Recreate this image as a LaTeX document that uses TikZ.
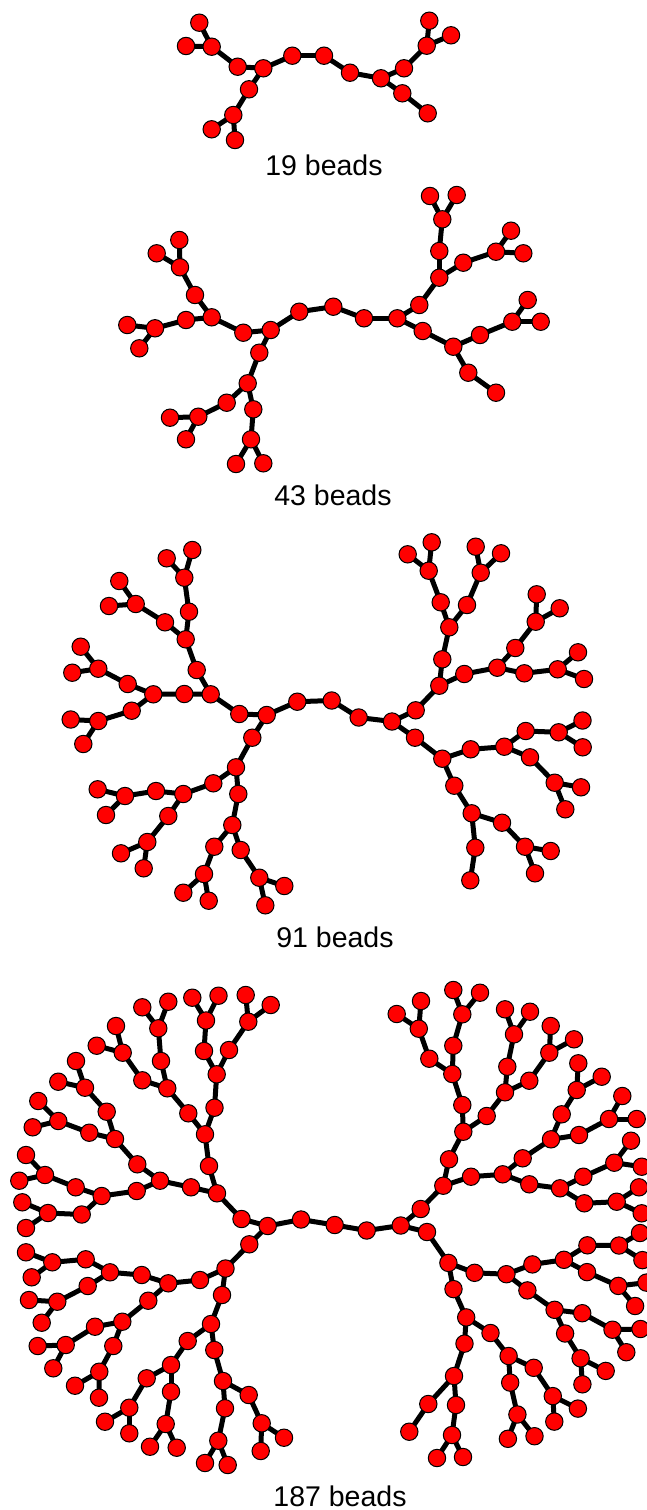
\documentclass[tikz,border=0pt]{standalone}
\usepackage{fontspec}
\setmainfont{Liberation Sans}
\usetikzlibrary{backgrounds}
\begin{document}
\begin{tikzpicture}[x=1pt,y=-1pt,
  bead/.style={circle,fill=red,draw=black,line width=1pt,minimum size=17.4pt,inner sep=0pt},
  bond/.style={line width=5pt,black},
  caption/.style={font=\fontsize{28.5}{32}\selectfont,anchor=base}]
\useasboundingbox (0,0) rectangle (646,1510);

% ---------------- 19 beads ----------------
\foreach \n/\x/\y in {p1/199.3/22.7, p2/186/46, p3/211.7/46.7, p4/237.7/66.7, p5/263.3/68.3,
  p6/292.3/55.7, p7/324/55.7, p8/350/72.7, p9/381/78.3, p10/404/68.3, p11/426.7/45.7,
  p12/429.3/20.7, p13/451/35.3, p14/402.3/93.3, p15/427.7/113.3, p16/249/89.3,
  p17/233.3/115, p18/211.7/129.3, p19/235/140}
  \node[bead] (\n) at (\x,\y) {};
\node[caption] (cap1) at (324,175) {19 beads};

% ---------------- 43 beads ----------------
\foreach \n/\x/\y in {q1/270.7/330, q2/299.3/311.7, q3/333.3/306.7, q4/364/318.3, q5/397.3/318.3,
  q6/243.3/332.7, q7/211.7/317.3, q8/195/295, q9/180/267.3, q10/179.3/240, q11/156.7/253.3,
  q12/186/320, q13/155/328.3, q14/127.3/325, q15/139.3/348.3, q16/259.3/352.7, q17/247.7/383.3,
  q18/226.7/402.7, q19/198.3/416.7, q20/170/417.7, q21/186/439.3, q22/253.3/409.3, q23/251/439.3,
  q24/236/464, q25/263.3/463.3, q26/419.3/305, q27/439.3/277.7, q28/439.3/251, q29/442.3/219.3,
  q30/430/196, q31/456.7/195, q32/463.3/262.7, q33/496/251.7, q34/511/230.7, q35/523.3/253.3,
  q36/422.7/331, q37/453.3/346.7, q38/480/335, q39/512.3/321.7, q40/527.7/300, q41/540.7/321.7,
  q42/468.3/372.7, q43/496/392.7}
  \node[bead] (\n) at (\x,\y) {};
\node[caption] (cap2) at (333,505) {43 beads};

% ---------------- 91 beads ----------------
\foreach \n/\x/\y in {a1/192.3/550, a2/166.7/558.3, a3/184.3/577.7, a4/119.3/581, a5/109/606,
  a6/135.7/604, a7/189/611.7, a8/165/622.3, a9/185.7/639.3, a10/80.7/646.7, a11/72.3/672.7,
  a12/98.3/668.7, a13/196.7/670, a14/127.7/684, a15/153.3/694.3, a16/184.3/694, a17/210.7/694.3,
  a18/239.3/714, a19/266.7/715, a20/297.3/701.7, a21/331.7/700.5, a22/131.7/710.7, a23/70.7/719.5,
  a24/98.3/721,
  b1/431.7/542.3, b2/407.7/554.3, b3/428.7/570.7, b4/475.7/546.7, b5/501/553.3, b6/480.7/572.7,
  b7/440.7/602.3, b8/467/605, b9/449.3/627.3, b10/536.7/594.3, b11/559.7/608.3, b12/535.7/621.7,
  b13/515.3/648, b14/442.3/659.3, b15/578/652.3, b16/497.3/667.7, b17/464.3/674, b18/524.3/673.3,
  b19/557.7/669.3, b20/584/679, b21/439.3/685.7, b23/358.7/717.5, b24/392/721.5, b25/415.7/710.3,
  b26/582.5/720.5,
  c1/83.3/744, c2/252.3/737.7, c3/236/767.3, c4/97.7/789.3, c5/125/796, c6/156/791, c7/183.3/794,
  c8/213.3/783.3, c9/238.3/794, c10/106/815, c11/168.3/816, c12/232.3/825, c13/147.3/842,
  c14/214.3/846.7, c15/240.7/850, c16/121/853.3, c17/143.7/868.3, c18/204/874, c19/259.3/877.7,
  c20/284.3/886, c21/183.3/892.7, c22/208.7/900.7, c23/265.3/905.3,
  d3/525.7/731, d4/558.7/732.3, d5/415/737.7, d6/582.7/747.3, d7/470.7/749.3, d8/504.3/746.7,
  d9/442.3/758.7, d10/530/757.3, d11/554.7/782.7, d12/581/787.3, d13/454.3/785.7, d14/565.3/809.3,
  d15/471.7/813.3, d16/502/822.7, d17/475.3/847.7, d18/525/846.7, d19/550.7/851, d20/535/873.3,
  d21/470.3/880.3}
  \node[bead] (\n) at (\x,\y) {};
\node[caption] (cap3) at (335,947) {91 beads};

% ---------------- 187 beads ----------------
% core and upper left
\foreach \n/\x/\y in {f14/267.7/1226, f15/301/1219.5, f16/334.7/1225, f17/366.7/1230.5, f18/400.7/1225.5,
  f20/427/1232, g8/249.3/1244.3, g18/284/1437.7, g19/260.7/1451,
  f13/241.5/1219, e37/217/1193.3, e35/191/1187.3, e30/209/1166, e27/205/1134.3, e21/214.5/1107.7,
  e22/188.3/1113.3, e14/216.7/1074.3, e10/204/1051, f7/229/1050, e5/206/1020.5, e2/192.3/997.7,
  e3/218.5/995.7, f5/248.3/1021.7, f2/245.7/995, f3/270.7/1005, e18/167.3/1088.3, e12/161/1061,
  e15/142.3/1080.3, e6/158.3/1028.3, e4/142.3/1007.3, e1/168.3/1001.7, e9/122.7/1052.7, e7/116/1026,
  e8/96.7/1045.7, e33/160/1180.7, e29/137.3/1164.3, e36/136.7/1191, e26/115/1139, e20/106.7/1111.7,
  e25/89.3/1132.7, e17/85/1087.7, e13/76/1061, e16/58.3/1081.7, e23/58.3/1121, e19/38.3/1101,
  e24/32.7/1127.3, e38/101.7/1196, e34/75.7/1187.3, e41/81.7/1214.5, e32/45/1175, e28/26/1155,
  e31/19.3/1180.7, e40/48/1213, e39/22.3/1202.3, e42/26/1228}
  \node[bead] (\n) at (\x,\y) {};
% upper right
\foreach \n/\x/\y in {f19/420.7/1209, i38/443.3/1185.7, i32/449/1159.3, i36/471/1176.7,
  i27/463.3/1131.7, i22/462.3/1105, i26/486.7/1116, i17/452.3/1074, i11/453.3/1045.7,
  i12/429.3/1058.7, i4/462.3/1014.3, i1/453.3/990, i2/480/992.7, i7/418.8/1028.7, i3/421/1001,
  f22/396.7/1014, i20/505/1092.3, i15/507.3/1066.7, i18/529.3/1080.7, i9/514/1034.3, i5/505/1009.3,
  i6/530/1011.7, i13/549.3/1052.7, i8/550.7/1026, i10/574/1039.3, i37/502.7/1174.3, i31/522.7/1158.3,
  i39/529.3/1184.3, i29/551/1139.3, i23/561.7/1114.3, i28/579/1135, i19/576.7/1090, i14/578.3/1063.3,
  i16/601.7/1076.7, i24/609/1119, i21/622.3/1096, i25/636.7/1119, i40/560/1188.3, i35/583.3/1176.7,
  i43/584.3/1203.3, i33/614.3/1162.7, i30/631/1140.7, i34/641.7/1166.7, i44/616.7/1201.7,
  i41/639/1187.3, i45/641.7/1213.3}
  \node[bead] (\n) at (\x,\y) {};
% lower left
\foreach \n/\x/\y in {g9/225.5/1268.5, h11/200/1280, h10/168.3/1283.3, h9/141.7/1275, h8/110/1272.3,
  h6/85.7/1259.3, h5/52.3/1262.3, h4/26/1252.3, h7/31.7/1277.3, h13/87.7/1286, h16/57.3/1301.7,
  h15/29/1300, h21/41.7/1322.7, h17/148.3/1300.7, h18/122.3/1321.7, h20/95/1326.7, h24/65.7/1345,
  h23/37.7/1346, h28/53.3/1368.3, h25/113.3/1346, h29/99.3/1371.7, h33/75/1385.7, h34/99/1397.7,
  g10/222/1295, g11/211/1324, h22/187.7/1341, h27/171/1365, h30/146.7/1378.3, h35/129.3/1407.7,
  h38/105/1421.7, h39/129.3/1433.3, h32/171/1391.7, h37/165.7/1424, h41/150/1446.7, h42/176.7/1447.7,
  g12/214.3/1350, g13/223/1381, g15/225/1408.3, g17/218.3/1440.7, g21/205/1463, g20/227.7/1465,
  g14/248.7/1395, g16/261.7/1423.3}
  \node[bead] (\n) at (\x,\y) {};
% lower right (its innermost arm ends in a single bead)
\foreach \n/\x/\y in {Rg9/448.4/1262.9, Rh11/474.6/1272.8, Rh10/506.4/1274.2, Rh9/532.4/1264.4,
  Rh8/563.9/1259.8, Rh6/587.4/1245.3, Rh5/619/1245.5, Rh4/640/1233, Rh7/642.4/1260.1,
  Rh13/587/1272.1, Rh16/618.3/1285.9, Rh15/646.4/1282.6, Rh21/635.1/1306, Rh17/527.4/1290.4,
  Rh18/554.6/1309.8, Rh20/582.2/1313.2, Rh24/612.5/1329.7, Rh23/640.5/1329, Rh28/626.3/1352.2,
  Rh25/565.1/1333.5, Rh29/580.6/1358.3, Rh33/605.7/1370.9, Rh34/582.4/1384.3, Rg10/453.5/1289.1,
  Rg11/466.2/1317.4, Rh22/490.5/1333, Rh27/508.6/1356, Rh30/533.7/1367.8, Rh35/552.8/1396.1,
  Rh38/577.9/1408.6, Rh39/554.3/1421.6, Rh32/510.2/1382.6, Rh37/517.4/1414.5, Rh41/534.5/1436.2,
  Rh42/507.9/1438.8, Rg12/464.5/1343.6, Rg13/454/1376, Rg15/456/1405, Rg17/452/1435,
  Rg21/463/1457, Rg20/437/1458, Rg14/428.3/1404, Rg16/409.3/1431.7}
  \node[bead] (\n) at (\x,\y) {};
\node[caption] (cap4) at (340,1506) {187 beads};

% bonds shared by both lower quadrants
\def\lowbonds{g9/h11, h11/h10, h10/h9, h9/h8, h8/h6, h6/h5, h5/h4, h5/h7, h8/h13, h13/h16,
  h16/h15, h16/h21, h10/h17, h17/h18, h18/h20, h20/h24, h24/h23, h24/h28, h18/h25, h25/h29,
  h29/h33, h29/h34, g9/g10, g10/g11, g11/h22, h22/h27, h27/h30, h30/h35, h35/h38, h35/h39,
  h27/h32, h32/h37, h37/h41, h37/h42, g11/g12, g12/g13, g13/g15, g15/g17, g17/g21, g17/g20,
  g13/g14, g14/g16}

% ---------------- bonds ----------------
\begin{pgfonlayer}{background}
\foreach \a/\b in {p3/p1, p3/p2, p3/p4, p4/p5, p5/p6, p6/p7, p7/p8, p8/p9, p9/p10, p10/p11,
  p11/p12, p11/p13, p9/p14, p14/p15, p5/p16, p16/p17, p17/p18, p17/p19,
  q1/q2, q2/q3, q3/q4, q4/q5, q1/q6, q6/q7, q7/q8, q8/q9, q9/q10, q9/q11, q7/q12, q12/q13,
  q13/q14, q13/q15, q1/q16, q16/q17, q17/q18, q18/q19, q19/q20, q19/q21, q17/q22, q22/q23,
  q23/q24, q23/q25, q5/q26, q26/q27, q27/q28, q28/q29, q29/q30, q29/q31, q27/q32, q32/q33,
  q33/q34, q33/q35, q5/q36, q36/q37, q37/q38, q38/q39, q39/q40, q39/q41, q37/q42, q42/q43,
  a19/a20, a20/a21, a21/b23, b23/b24, a19/a18, a18/a17, a17/a16, a17/a13, a13/a9, a9/a7, a9/a8,
  a7/a3, a3/a1, a3/a2, a8/a6, a6/a4, a6/a5, a16/a15, a15/a14, a15/a22, a14/a12, a12/a10,
  a12/a11, a22/a24, a24/a23, a24/c1, a19/c2, c2/c3, c3/c8, c3/c9, c8/c7, c7/c6, c7/c11, c6/c5,
  c5/c4, c5/c10, c11/c13, c13/c16, c13/c17, c9/c12, c12/c14, c12/c15, c14/c18, c18/c21, c18/c22,
  c15/c19, c19/c20, c19/c23, b24/b25, b25/b21, b21/b14, b21/b17, b14/b9, b9/b7, b9/b8, b7/b3,
  b3/b1, b3/b2, b8/b6, b6/b4, b6/b5, b17/b16, b16/b13, b16/b18, b13/b12, b12/b10, b12/b11,
  b18/b19, b19/b15, b19/b20, b24/d5, d5/d9, d9/d7, d9/d13, d7/d8, d8/d3, d8/d10, d3/d4, d4/b26,
  d4/d6, d10/d11, d11/d12, d11/d14, d13/d15, d15/d16, d15/d17, d16/d18, d18/d19, d18/d20, d17/d21,
  f14/f15, f15/f16, f16/f17, f17/f18, f18/f20, f14/f13, f13/e37, e37/e30, e37/e35, e30/e27,
  e27/e21, e27/e22, e21/e14, e14/e10, e14/f7, e10/e5, e5/e2, e5/e3, f7/f5, f5/f2, f5/f3,
  e22/e18, e18/e12, e18/e15, e12/e6, e6/e4, e6/e1, e15/e9, e9/e7, e9/e8, e35/e33, e33/e29,
  e33/e36, e29/e26, e26/e20, e26/e25, e20/e17, e17/e13, e17/e16, e25/e23, e23/e19, e23/e24,
  e36/e38, e38/e34, e38/e41, e34/e32, e32/e28, e32/e31, e41/e40, e40/e39, e40/e42,
  f18/f19, f19/i38, i38/i32, i38/i36, i32/i27, i27/i22, i27/i26, i22/i17, i17/i11, i17/i12,
  i11/i4, i4/i1, i4/i2, i12/i7, i7/i3, i7/f22, i26/i20, i20/i15, i20/i18, i15/i9, i9/i5, i9/i6,
  i18/i13, i13/i8, i13/i10, i36/i37, i37/i31, i37/i39, i31/i29, i29/i23, i29/i28, i23/i19,
  i19/i14, i19/i16, i28/i24, i24/i21, i24/i25, i39/i40, i40/i35, i40/i43, i35/i33, i33/i30,
  i33/i34, i43/i44, i44/i41, i44/i45,
  f14/g8, g8/g9, g16/g18, g16/g19, f20/Rg9}
  \draw[bond] (\a.center) -- (\b.center);
\foreach \a/\b in \lowbonds {
  \draw[bond] (\a.center) -- (\b.center);
  \draw[bond] (R\a.center) -- (R\b.center);
}
\end{pgfonlayer}
\end{tikzpicture}
\end{document}
